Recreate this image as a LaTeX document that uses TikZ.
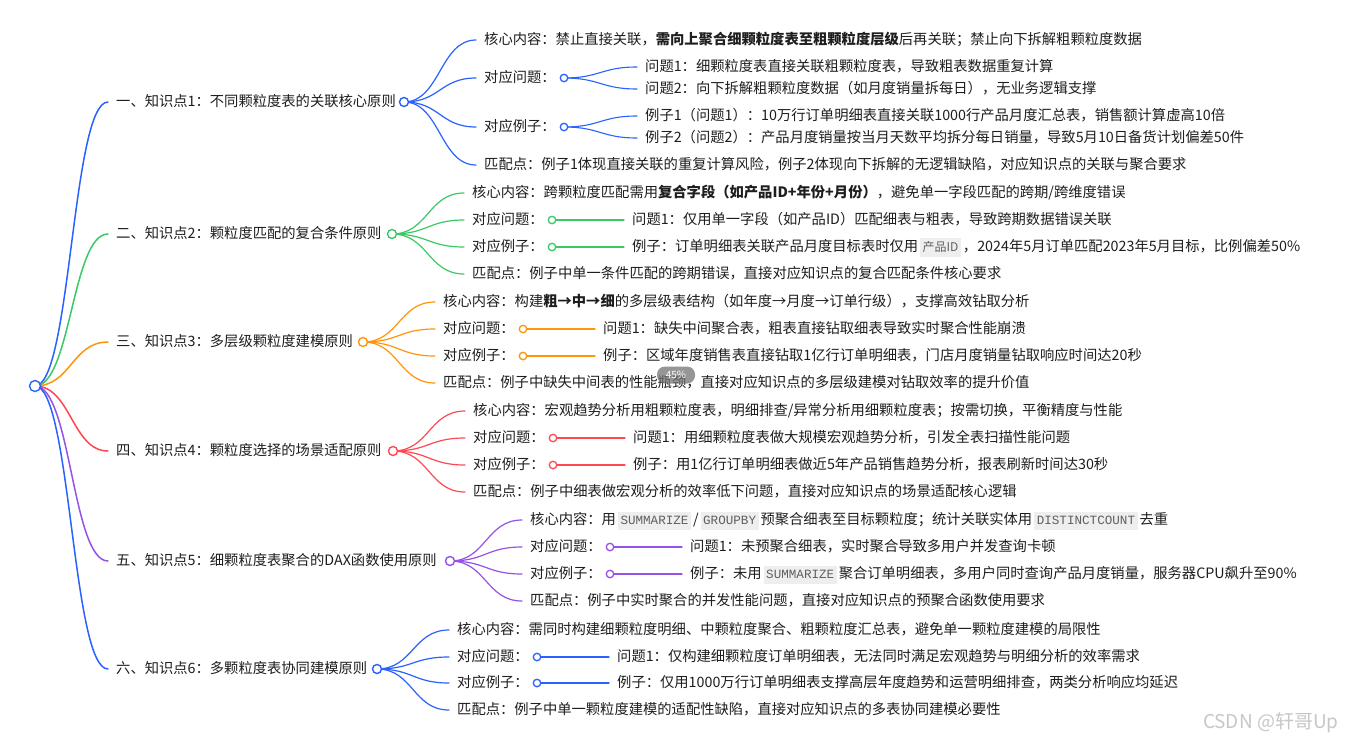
\documentclass[tikz,border=0pt]{standalone}
\usepackage{fontspec}
\setmainfont{Noto Sans CJK SC}
\setmonofont{Liberation Mono}
\usepackage{tikz}
\usetikzlibrary{
  positioning,
  backgrounds
}
\pgfdeclarelayer{background}
\pgfsetlayers{background,main}
\definecolor{mapblue}{RGB}{41, 98, 255}
\definecolor{mapgreen}{RGB}{58, 201, 100}
\definecolor{maporange}{RGB}{255, 149, 10}
\definecolor{mapred}{RGB}{255, 72, 82}
\definecolor{mappurple}{RGB}{150, 82, 230}
\definecolor{ink}{RGB}{30, 30, 30}
\definecolor{codebg}{RGB}{238, 238, 238}
\definecolor{codefg}{RGB}{95, 95, 95}
\newcommand{\daxkw}[1]{\hspace{2pt}{\setlength{\fboxsep}{2.5pt}\colorbox{codebg}{\rule[-3pt]{0pt}{13pt}\fontsize{12.6}{13}\ttfamily\color{codefg}#1}}\hspace{2pt}}
\newcommand{\cnkw}[1]{\hspace{2pt}{\setlength{\fboxsep}{2.5pt}\colorbox{codebg}{\rule[-3pt]{0pt}{13pt}\fontsize{12}{13}\selectfont\color{codefg}#1}}\hspace{2pt}}
\tikzset{
  txt/.style = {
    anchor=west, inner xsep=8pt, inner ysep=1pt,
    text height=11pt, text depth=3pt, text=ink,
    font=\fontsize{14.3}{16}\selectfont
  },
  dot/.style = {
    circle, draw=#1, fill=white, line width=1.4pt,
    minimum size=9pt, inner sep=0pt
  },
  dot/.default = mapblue,
  subdot/.style = {dot=#1, minimum size=7.5pt, line width=1.3pt},
  link/.style = {
    draw=#1, line width=1.2pt, line cap=round,
    to path={.. controls +(36,0) and +(-36,0) .. (\tikztotarget)}
  },
  mainlink/.style = {link=#1, line width=1.5pt},
}

\begin{document}
\begin{tikzpicture}[x=1pt, y=-1pt]
  \useasboundingbox (0,0) rectangle (1347,747);

  \node[dot=mapblue, minimum size=11pt] (root) at (35,386) {};

  % 知识点1
  \node[txt] (k1) at (108,102) {一、知识点1：不同颗粒度表的关联核心原则};
  \node[dot=mapblue] (d1) at (404,102) {};
  \node[txt] (k1c) at (476,40)
    {核心内容：禁止直接关联，{\bfseries 需向上聚合细颗粒度表至粗颗粒度层级}后再关联；禁止向下拆解粗颗粒度数据};
  \node[txt] (k1q) at (476,78) {对应问题：};
  \node[subdot=mapblue] (k1qd) at (564,78) {};
  \node[txt] (k1q1) at (637,67) {问题1：细颗粒度表直接关联粗颗粒度表，导致粗表数据重复计算};
  \node[txt] (k1q2) at (637,89) {问题2：向下拆解粗颗粒度数据（如月度销量拆每日），无业务逻辑支撑};
  \node[txt] (k1e) at (476,127) {对应例子：};
  \node[subdot=mapblue] (k1ed) at (564,127) {};
  \node[txt] (k1e1) at (637,116)
    {例子1（问题1）：10万行订单明细表直接关联1000行产品月度汇总表，销售额计算虚高10倍};
  \node[txt] (k1e2) at (637,138)
    {例子2（问题2）：产品月度销量按当月天数平均拆分每日销量，导致5月10日备货计划偏差50件};
  \node[txt] (k1m) at (476,165)
    {匹配点：例子1体现直接关联的重复计算风险，例子2体现向下拆解的无逻辑缺陷，对应知识点的关联与聚合要求};

  % 知识点2
  \node[txt] (k2) at (108,234) {二、知识点2：颗粒度匹配的复合条件原则};
  \node[dot=mapgreen] (d2) at (392,234) {};
  \node[txt] (k2c) at (464,193)
    {核心内容：跨颗粒度匹配需用{\bfseries 复合字段（如产品ID+年份+月份）}，避免单一字段匹配的跨期/跨维度错误};
  \node[txt] (k2q) at (464,220) {对应问题：};
  \node[subdot=mapgreen] (k2qd) at (552,220) {};
  \node[txt] (k2q1) at (624,220) {问题1：仅用单一字段（如产品ID）匹配细表与粗表，导致跨期数据错误关联};
  \node[txt] (k2e) at (464,247) {对应例子：};
  \node[subdot=mapgreen] (k2ed) at (552,247) {};
  \node[txt] (k2e1) at (624,247)
    {例子：订单明细表关联产品月度目标表时仅用\cnkw{产品ID}，2024年5月订单匹配2023年5月目标，比例偏差50\%};
  \node[txt] (k2m) at (464,274) {匹配点：例子中单一条件匹配的跨期错误，直接对应知识点的复合匹配条件核心要求};

  % 知识点3
  \node[txt] (k3) at (108,342) {三、知识点3：多层级颗粒度建模原则};
  \node[dot=maporange] (d3) at (363,342) {};
  \node[txt] (k3c) at (435,302)
    {核心内容：构建{\bfseries 粗→中→细}的多层级表结构（如年度→月度→订单行级），支撑高效钻取分析};
  \node[txt] (k3q) at (435,329) {对应问题：};
  \node[subdot=maporange] (k3qd) at (523,329) {};
  \node[txt] (k3q1) at (595,329) {问题1：缺失中间聚合表，粗表直接钻取细表导致实时聚合性能崩溃};
  \node[txt] (k3e) at (435,356) {对应例子：};
  \node[subdot=maporange] (k3ed) at (523,356) {};
  \node[txt] (k3e1) at (595,356) {例子：区域年度销售表直接钻取1亿行订单明细表，门店月度销量钻取响应时间达20秒};
  \node[txt] (k3m) at (435,383) {匹配点：例子中缺失中间表的性能瓶颈，直接对应知识点的多层级建模对钻取效率的提升价值};

  % 知识点4
  \node[txt] (k4) at (108,451) {四、知识点4：颗粒度选择的场景适配原则};
  \node[dot=mapred] (d4) at (393,451) {};
  \node[txt] (k4c) at (465,411)
    {核心内容：宏观趋势分析用粗颗粒度表，明细排查/异常分析用细颗粒度表；按需切换，平衡精度与性能};
  \node[txt] (k4q) at (465,438) {对应问题：};
  \node[subdot=mapred] (k4qd) at (553,438) {};
  \node[txt] (k4q1) at (625,438) {问题1：用细颗粒度表做大规模宏观趋势分析，引发全表扫描性能问题};
  \node[txt] (k4e) at (465,465) {对应例子：};
  \node[subdot=mapred] (k4ed) at (553,465) {};
  \node[txt] (k4e1) at (625,465) {例子：用1亿行订单明细表做近5年产品销售趋势分析，报表刷新时间达30秒};
  \node[txt] (k4m) at (465,492) {匹配点：例子中细表做宏观分析的效率低下问题，直接对应知识点的场景适配核心逻辑};

  % 知识点5
  \node[txt] (k5) at (108,561) {五、知识点5：细颗粒度表聚合的DAX函数使用原则};
  \node[dot=mappurple] (d5) at (450,561) {};
  \node[txt] (k5c) at (522,520)
    {核心内容：用\daxkw{SUMMARIZE}/\daxkw{GROUPBY}预聚合细表至目标颗粒度；统计关联实体用\daxkw{DISTINCTCOUNT}去重};
  \node[txt] (k5q) at (522,547) {对应问题：};
  \node[subdot=mappurple] (k5qd) at (610,547) {};
  \node[txt] (k5q1) at (682,547) {问题1：未预聚合细表，实时聚合导致多用户并发查询卡顿};
  \node[txt] (k5e) at (522,574) {对应例子：};
  \node[subdot=mappurple] (k5ed) at (610,574) {};
  \node[txt] (k5e1) at (682,574)
    {例子：未用\daxkw{SUMMARIZE}聚合订单明细表，多用户同时查询产品月度销量，服务器CPU飙升至90\%};
  \node[txt] (k5m) at (522,601) {匹配点：例子中实时聚合的并发性能问题，直接对应知识点的预聚合函数使用要求};

  % 知识点6
  \node[txt] (k6) at (108,669) {六、知识点6：多颗粒度表协同建模原则};
  \node[dot=mapblue] (d6) at (377,669) {};
  \node[txt] (k6c) at (449,630)
    {核心内容：需同时构建细颗粒度明细、中颗粒度聚合、粗颗粒度汇总表，避免单一颗粒度建模的局限性};
  \node[txt] (k6q) at (449,657) {对应问题：};
  \node[subdot=mapblue] (k6qd) at (537,657) {};
  \node[txt] (k6q1) at (609,657) {问题1：仅构建细颗粒度订单明细表，无法同时满足宏观趋势与明细分析的效率需求};
  \node[txt] (k6e) at (449,683) {对应例子：};
  \node[subdot=mapblue] (k6ed) at (537,683) {};
  \node[txt] (k6e1) at (609,683) {例子：仅用1000万行订单明细表支撑高层年度趋势和运营明细排查，两类分析响应均延迟};
  \node[txt] (k6m) at (449,710) {匹配点：例子中单一颗粒度建模的适配性缺陷，直接对应知识点的多表协同建模必要性};

  % zoom badge and watermark
  \node[fill=black!55, fill opacity=0.75, text opacity=1, text=white,
        rounded corners=8pt, minimum width=38pt, minimum height=17pt,
        font=\fontsize{10}{10}\selectfont] (zoomtag) at (676,375) {45\%};
  \node[text=black!22, font=\fontsize{19}{20}\selectfont, anchor=east]
    (mark) at (1342,723) {CSDN @轩哥Up};

  %% Links
  \begin{pgfonlayer}{background}
    \fill[white] (0,0) rectangle (1347,747);
    \draw[mainlink=mapblue]   (root.center) to (k1.west);
    \draw[mainlink=mapgreen]  (root.center) to (k2.west);
    \draw[mainlink=maporange] (root.center) to (k3.west);
    \draw[mainlink=mapred]    (root.center) to (k4.west);
    \draw[mainlink=mappurple] (root.center) to (k5.west);
    \draw[mainlink=mapblue]   (root.center) to (k6.west);
    \foreach \k/\d/\c in {k1/d1/mapblue, k2/d2/mapgreen, k3/d3/maporange,
                          k4/d4/mapred, k5/d5/mappurple, k6/d6/mapblue} {
      \draw[link=\c] (\d.center) to (\k c.west);
      \draw[link=\c] (\d.center) to (\k q.west);
      \draw[link=\c] (\d.center) to (\k e.west);
      \draw[link=\c] (\d.center) to (\k m.west);
      \draw[link=\c, line width=1.1pt] (\k qd.center) to (\k q1.west);
      \draw[link=\c, line width=1.1pt] (\k ed.center) to (\k e1.west);
    }
    \draw[link=mapblue, line width=1.1pt] (k1qd.center) to (k1q2.west);
    \draw[link=mapblue, line width=1.1pt] (k1ed.center) to (k1e2.west);
  \end{pgfonlayer}
\end{tikzpicture}
\end{document}
